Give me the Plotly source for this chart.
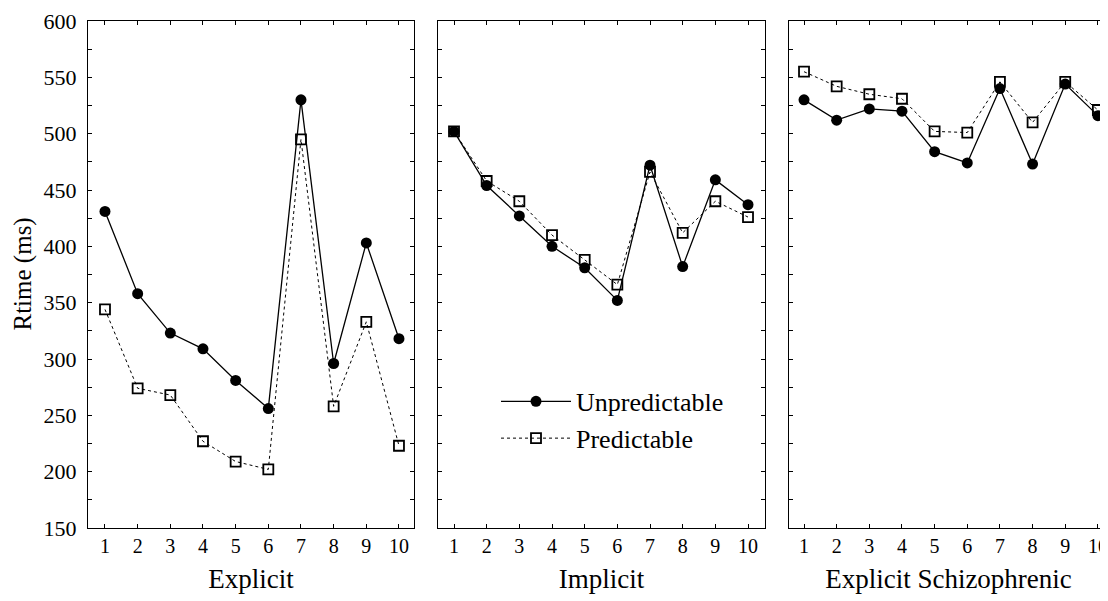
import plotly.graph_objects as go

blocks = list(range(1, 11))
panels = ["Explicit", "Implicit", "Explicit Schizophrenic"]

explicit_unpred = [431, 358, 323, 309, 281, 256, 530, 296, 403, 318]
explicit_pred = [344, 274, 268, 227, 209, 202, 495, 258, 333, 223]
implicit_unpred = [502, 454, 427, 400, 381, 352, 472, 382, 459, 437]
implicit_pred = [502, 458, 440, 410, 388, 366, 466, 412, 440, 426]
schizo_unpred = [530, 512, 522, 520, 484, 474, 540, 473, 544, 516]
schizo_pred = [555, 542, 535, 531, 502, 501, 546, 510, 546, 521]

unpred_series = [explicit_unpred, implicit_unpred, schizo_unpred]
pred_series = [explicit_pred, implicit_pred, schizo_pred]

y_tickvals = list(range(150, 601, 25))
y_ticktext = [str(v) if v % 50 == 0 else "" for v in y_tickvals]
x_ticktext = [str(b) for b in blocks]

FONT = "Liberation Serif"
# page body has an 8px margin, so figure is 1100x593 drawn at (8, 8)
W, H = 1100, 593

pred_line = dict(color="black", width=1, dash="3px,3px")
pred_marker = dict(symbol="square-open", size=10, color="black", line=dict(width=1.8, color="black"))
unpred_line = dict(color="black", width=1.3)
unpred_marker = dict(symbol="circle", size=11, color="black")

fig = go.Figure()
for i in range(3):
    ax = "" if i == 0 else str(i + 1)
    fig.add_trace(go.Scatter(
        x=blocks, y=pred_series[i], mode="lines+markers", name="Predictable",
        line=pred_line, marker=pred_marker,
        xaxis="x" + ax, yaxis="y" + ax, showlegend=False))
    fig.add_trace(go.Scatter(
        x=blocks, y=unpred_series[i], mode="lines+markers", name="Unpredictable",
        line=unpred_line, marker=unpred_marker,
        xaxis="x" + ax, yaxis="y" + ax, showlegend=(i == 0), legendrank=1))
fig.add_trace(go.Scatter(
    x=[None], y=[None], mode="lines+markers", name="Predictable",
    line=pred_line, marker=pred_marker,
    xaxis="x2", yaxis="y2", showlegend=True, legendrank=2))

domains = [(80 / W, 406 / W), (430 / W, 757 / W), (781 / W, 1.0)]
xranges = [[0.48, 10.46], [0.51, 10.52], [0.54, 10.31]]

axis_common = dict(showline=True, linecolor="black", linewidth=1.2, mirror="ticks",
                   ticks="inside", ticklen=4, tickcolor="black", tickwidth=1,
                   showgrid=False, zeroline=False)

layout = dict(
    width=W, height=H, paper_bgcolor="white", plot_bgcolor="white",
    margin=dict(l=0, r=0, t=13, b=73),
    font=dict(family=FONT, color="black", size=20),
    showlegend=True,
    legend=dict(x=488 / W, y=0.296, xanchor="left", yanchor="top",
                bgcolor="rgba(0,0,0,0)", font=dict(size=26, family=FONT),
                tracegroupgap=0, itemwidth=70),
)
for i in range(3):
    key = "" if i == 0 else str(i + 1)
    layout["xaxis" + key] = dict(
        domain=list(domains[i]), range=xranges[i], tickvals=blocks, ticktext=x_ticktext,
        tickfont=dict(size=20), anchor="y" + key, ticklabelstandoff=0,
        title=dict(text=panels[i], font=dict(size=27), standoff=13), **axis_common)
    layout["yaxis" + key] = dict(
        domain=[0, 1], range=[150, 600], tickvals=y_tickvals,
        ticktext=y_ticktext if i == 0 else [""] * len(y_tickvals),
        showticklabels=(i == 0), tickfont=dict(size=22), anchor="x" + key,
        ticklabelstandoff=6, **axis_common)

fig.update_layout(**layout)
fig.add_annotation(text="Rtime (ms)", textangle=-90, xref="paper", yref="paper",
                   x=14 / W, y=0.5, xanchor="center", yanchor="middle",
                   showarrow=False, font=dict(size=25, family=FONT))
fig.write_html("out.html")
